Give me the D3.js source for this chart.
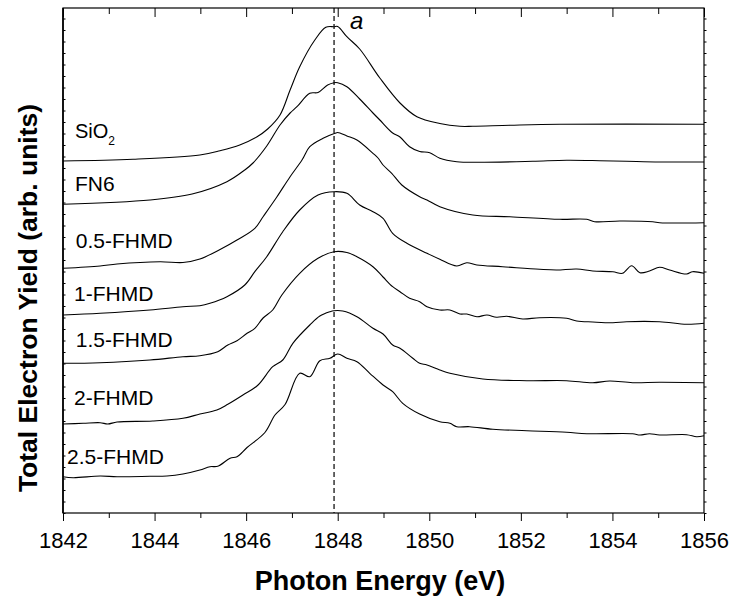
<!DOCTYPE html>
<html><head><meta charset="utf-8">
<script src="https://cdn.jsdelivr.net/npm/d3@7/dist/d3.min.js"></script>
<style>body{margin:0;background:#fff}svg text{font-family:"Liberation Sans",Arial,Helvetica,sans-serif;fill:#000}</style>
</head><body><svg id="chart" width="737" height="603"></svg>
<script>
// ---- data (photon energy in eV, total electron yield in arb. units, curves offset as in the figure)
const sio2E = [1842.00,1843.53,1844.99,1845.43,1845.86,1846.23,1846.47,1846.74,1846.96,1847.17,1847.50,1847.74,1847.92,1848.00,1848.20,1848.48,1848.92,1849.36,1849.73,1850.23,1850.67,1850.95,1851.76,1852.85,1856.00];
const sio2V = [352,353.7,358,362.3,368,376,384,398,423,446.3,473,485.7,486.3,486.5,476.3,464,435,410,396.3,389.5,386.7,386.7,387.7,388.7,388.7];

const fn6E = [1842.00,1843.90,1844.82,1845.58,1845.97,1846.15,1846.45,1846.74,1846.96,1847.11,1847.39,1847.57,1847.78,1847.92,1848.00,1848.20,1848.48,1848.77,1848.92,1849.20,1849.36,1849.57,1849.79,1850.01,1850.23,1850.60,1851.04,1852.26,1853.00,1853.72,1854.31,1855.03,1856.00];
const fn6V = [308.7,313,319,331.3,343,350,367,388,400,406.3,419.7,420.5,428,430.3,430.3,426.3,414,400,393,380,376,366.3,361.5,360.3,354.7,351.3,350.7,351.7,352.7,352.3,351.7,351,351];

const fhmd05E = [1842.00,1842.81,1843.18,1844.12,1844.62,1844.99,1845.43,1845.80,1846.19,1846.37,1846.67,1846.96,1847.22,1847.39,1847.68,1847.94,1848.00,1848.20,1848.42,1848.77,1848.88,1848.99,1849.18,1849.40,1849.79,1849.95,1850.23,1850.95,1851.76,1852.85,1853.44,1853.61,1854.16,1854.88,1855.03,1856.00];
const fhmd05V = [244.7,247,249,251.3,250.5,254,263.5,273,284.7,296.3,316,336.3,353,366.3,374.7,379.7,380.5,377,373,359.7,355,348,339.7,328,316.3,313,306.3,298,296.3,293.7,293.7,291.3,292,291.3,290.3,290.3];

const fhmd1E = [1842.00,1842.81,1843.90,1844.62,1844.99,1845.21,1845.58,1845.97,1846.19,1846.45,1846.80,1847.17,1847.57,1847.92,1848.20,1848.48,1848.77,1848.99,1849.20,1849.51,1849.95,1850.23,1850.60,1850.82,1851.04,1851.60,1852.41,1852.78,1853.22,1853.57,1854.01,1854.22,1854.42,1854.60,1854.81,1855.03,1855.25,1855.62,1855.75,1856.00];
const fhmd1V = [198,199.7,203,206.3,207.3,209.7,216.3,228,241.3,256.3,281.3,303,318,321.3,319.7,308,301.3,294.7,279.7,269.7,259.7,253.7,247,250.3,248,246.3,243.7,243,244,242,241.3,239.7,247.3,240.3,242,245.7,243,239,241.3,239.7];

const fhmd15E = [1842.00,1842.81,1843.90,1844.62,1844.99,1845.38,1845.60,1845.80,1846.02,1846.19,1846.37,1846.58,1846.78,1847.17,1847.57,1847.92,1848.20,1848.42,1848.77,1848.99,1849.20,1849.36,1849.57,1849.79,1849.95,1850.23,1850.45,1850.67,1850.82,1851.04,1851.26,1851.47,1851.69,1852.04,1852.41,1853.00,1853.22,1853.57,1854.01,1854.31,1855.03,1855.62,1856.00];
const fhmd15V = [149.7,150.3,153,156.3,157.3,161.3,168,172.3,179.7,184.7,195,203,218,239.7,254.7,261.3,260.5,256.3,246.3,236,226.3,221.3,214.7,211.3,206.3,203,203,199,199,196.3,198,195.7,196.7,194,195.3,194.7,192,191,190.3,191.3,191.3,188.7,189.7];

const fhmd2E = [1842.00,1842.44,1842.81,1842.98,1843.18,1843.96,1844.62,1844.99,1845.36,1845.60,1845.93,1846.26,1846.58,1846.80,1847.02,1847.39,1847.61,1847.83,1847.92,1848.11,1848.42,1848.77,1848.99,1849.20,1849.36,1849.64,1849.79,1849.95,1850.23,1850.45,1851.17,1852.13,1853.00,1853.57,1853.94,1854.44,1855.03,1856.00];
const fhmd2V = [89,89.7,90.3,89,91,92,94.7,99,103,108.7,118,128,146.3,153,169.7,188,197,201.3,202.3,202,196.3,184.7,179,168,164.7,154.7,149.7,148,143,139.7,134,132.3,132.3,130.3,132,130.3,130.7,130.3];

const fhmd25E = [1842.00,1842.22,1842.81,1843.18,1843.90,1844.27,1844.62,1844.99,1845.21,1845.38,1845.65,1845.80,1846.02,1846.41,1846.63,1846.85,1847.17,1847.39,1847.61,1847.83,1848.00,1848.20,1848.42,1848.70,1848.99,1849.20,1849.42,1849.79,1850.23,1850.45,1850.60,1850.88,1851.39,1852.13,1853.00,1853.44,1854.44,1854.60,1854.81,1855.03,1855.62,1855.84,1856.00];
const fhmd25V = [36.3,35.3,37,36.3,36.7,37,39,43,46.3,46.7,54.7,56.3,65.5,80.5,98,108.5,139.7,136.3,152.3,154.7,159,154.7,151.3,139.7,128,121.3,109.7,99,91.3,89.7,86.3,86.3,83.7,82.3,80.7,79.3,79.3,78,79.3,78,78.3,76.3,77.3];

const seriesNames = ["SiO2","FN6","0.5-FHMD","1-FHMD","1.5-FHMD","2-FHMD","2.5-FHMD"];
const seriesE = [sio2E,fn6E,fhmd05E,fhmd1E,fhmd15E,fhmd2E,fhmd25E];
const seriesV = [sio2V,fn6V,fhmd05V,fhmd1V,fhmd15V,fhmd2V,fhmd25V];
// label anchors (data coordinates)
const labelE = [1842.26,1842.26,1842.28,1842.24,1842.28,1842.24,1842.09];
const labelV = [375,322,265,212,166,108,49];

const xMajor = [1842,1844,1846,1848,1850,1852,1854,1856];
const xMinor = [1843,1845,1847,1849,1851,1853,1855];
const peakE = 1847.92;   // dashed marker "a"
const yDomain = [0,505];

// ---- drawing
const svg = d3.select("#chart");
const L=63,R=704,T=8,B=513;
const x = d3.scaleLinear().domain([1842,1856]).range([L,R]);
const y = d3.scaleLinear().domain(yDomain).range([B,T]);

// curves
const line = d3.line().x(d=>x(d[0])).y(d=>y(d[1])).curve(d3.curveCatmullRom.alpha(0.5));
seriesE.forEach((E,i)=>{
  const pts = E.map((e,j)=>[e,seriesV[i][j]]);
  svg.append("path").datum(pts).attr("d",line)
    .attr("fill","none").attr("stroke","#000").attr("stroke-width",1.1);
});

// dashed peak marker
svg.append("line").attr("x1",x(peakE)).attr("x2",x(peakE)).attr("y1",T).attr("y2",B)
  .attr("stroke","#000").attr("stroke-width",1.2).attr("stroke-dasharray","5,3");
svg.append("text").attr("x",x(peakE)+16).attr("y",29).attr("font-size",24).attr("font-style","italic").text("a");

// series labels
seriesNames.forEach((n,i)=>{
  const t = svg.append("text").attr("x",x(labelE[i])).attr("y",y(labelV[i])).attr("font-size",21);
  if(n==="SiO2"){ t.attr("font-size",20).text("SiO"); t.append("tspan").attr("font-size",12).attr("dy",7).text("2"); }
  else t.text(n);
});

// axes
const gB = svg.append("g").attr("transform",`translate(0,${B})`);
gB.call(d3.axisBottom(x).tickValues(xMajor).tickSize(8).tickPadding(11).tickFormat(d3.format("d")));
gB.call(g=>g.selectAll("text").attr("font-size",22).attr("font-family",null));
gB.append("g").call(d3.axisBottom(x).tickValues(xMinor).tickSize(5).tickFormat(""));
const gT = svg.append("g").attr("transform",`translate(0,${T})`);
gT.call(d3.axisBottom(x).tickValues(xMajor).tickSize(9).tickFormat(""));
gT.append("g").call(d3.axisBottom(x).tickValues(xMinor).tickSize(6).tickFormat(""));
const yTicks = d3.range(0,506,11.5);
svg.append("g").attr("transform",`translate(${L},0)`).call(d3.axisRight(y).tickValues(yTicks).tickSize(2.5).tickFormat(""));
svg.append("g").attr("transform",`translate(${R},0)`).call(d3.axisRight(y).tickValues(yTicks).tickSize(2.5).tickFormat(""));
svg.selectAll(".domain").remove();
svg.selectAll(".tick line").attr("stroke","#000");

// frame
svg.append("rect").attr("x",L).attr("y",T).attr("width",R-L).attr("height",B-T)
  .attr("fill","none").attr("stroke","#000").attr("stroke-width",1.2);
svg.append("line").attr("x1",L).attr("x2",L).attr("y1",T).attr("y2",B).attr("stroke","#000").attr("stroke-width",1.6);

// titles
svg.append("text").attr("x",380).attr("y",590).attr("text-anchor","middle")
  .attr("font-size",27).attr("font-weight","bold").text("Photon Energy (eV)");
svg.append("text").attr("transform","translate(37,298) rotate(-90)").attr("text-anchor","middle")
  .attr("font-size",26.5).attr("font-weight","bold").text("Total Electron Yield (arb. units)");
</script></body></html>
